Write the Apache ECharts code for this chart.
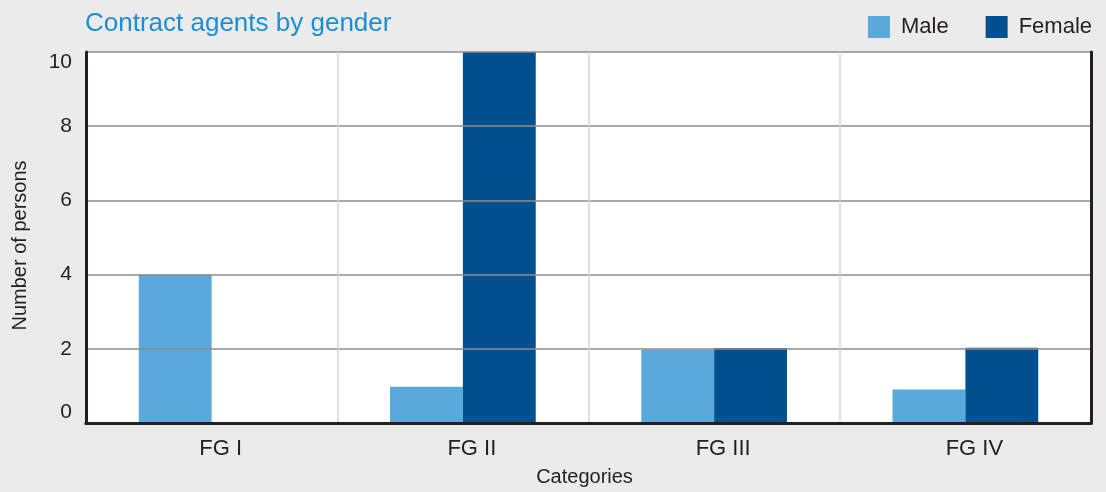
<!DOCTYPE html>
<html>
<head>
<meta charset="utf-8">
<script src="https://cdn.jsdelivr.net/npm/echarts@6/dist/echarts.min.js"></script>
<style>
html,body{margin:0;padding:0;background:#ebebeb;}
#chart{width:1106px;height:492px;}
</style>
</head>
<body>
<div id="chart"></div>
<script>
const categories = ['FG I', 'FG II', 'FG III', 'FG IV'];
const maleValues = [4, 0.98, 1.98, 0.9];
const femaleValues = [0, 10, 2.02, 2.03];
const yTicks = [0, 2, 4, 6, 8, 10];

const FONT = '"Liberation Sans", Arial, Helvetica, sans-serif';
const chart = echarts.init(document.getElementById('chart'), null, {renderer: 'canvas'});
const yMin = yTicks[0], yMax = yTicks[yTicks.length - 1], yStep = yTicks[1] - yTicks[0];
const frameLine = {show: true, lineStyle: {color: '#231f20', width: 3}};

chart.setOption({
  backgroundColor: '#ebebeb',
  animation: false,
  textStyle: {fontFamily: FONT},
  title: {
    text: 'Contract agents by gender',
    left: 80, top: 6,
    textStyle: {fontFamily: FONT, fontSize: 26, fontWeight: 'normal', color: '#1a8fd5'}
  },
  legend: {
    right: 9, top: 11,
    itemWidth: 22, itemHeight: 22, itemGap: 37,
    icon: 'rect',
    textStyle: {fontFamily: FONT, fontSize: 22, color: '#231f20', padding: [0, 0, 0, 6]},
    data: ['Male', 'Female']
  },
  grid: {
    left: 86, right: 15, top: 52, bottom: 67,
    show: true, backgroundColor: '#ffffff', borderWidth: 0
  },
  xAxis: [{
    type: 'category',
    data: categories,
    z: 10,
    axisLine: frameLine,
    axisTick: {show: false},
    axisLabel: {fontFamily: FONT, fontSize: 22, color: '#231f20', margin: 15, padding: [0, 0, 0, 18]},
    splitLine: {show: true, lineStyle: {color: '#d6d6d6', width: 1.5}},
    name: 'Categories',
    nameLocation: 'middle',
    nameGap: 44,
    nameTextStyle: {fontFamily: FONT, fontSize: 20, color: '#231f20', padding: [0, 8, 0, 0]}
  }, {
    type: 'category',
    data: categories,
    position: 'top',
    z: 10,
    axisLine: frameLine,
    axisTick: {show: false},
    axisLabel: {show: false},
    splitLine: {show: false}
  }],
  yAxis: [{
    type: 'value',
    min: yMin, max: yMax, interval: yStep,
    z: 10,
    axisLine: frameLine,
    axisTick: {show: false},
    axisLabel: {
      fontFamily: FONT, fontSize: 21, color: '#231f20', margin: 14,
      verticalAlignMinLabel: 'bottom', verticalAlignMaxLabel: 'top'
    },
    splitLine: {show: true, lineStyle: {color: '#8c8c8c', width: 1.5}},
    name: 'Number of persons',
    nameLocation: 'middle',
    nameGap: 56,
    nameTextStyle: {fontFamily: FONT, fontSize: 20, color: '#231f20', padding: [0, 16, 0, 0]}
  }, {
    type: 'value',
    min: yMin, max: yMax, interval: yStep,
    position: 'right',
    z: 10,
    axisLine: frameLine,
    axisTick: {show: false},
    axisLabel: {show: false},
    splitLine: {show: false}
  }],
  series: [{
    name: 'Male',
    type: 'bar',
    data: maleValues,
    barGap: '0%',
    barCategoryGap: '42%',
    itemStyle: {color: '#5ba8dc'}
  }, {
    name: 'Female',
    type: 'bar',
    data: femaleValues,
    barGap: '0%',
    barCategoryGap: '42%',
    itemStyle: {color: '#02508f'}
  }]
});
</script>
</body>
</html>
